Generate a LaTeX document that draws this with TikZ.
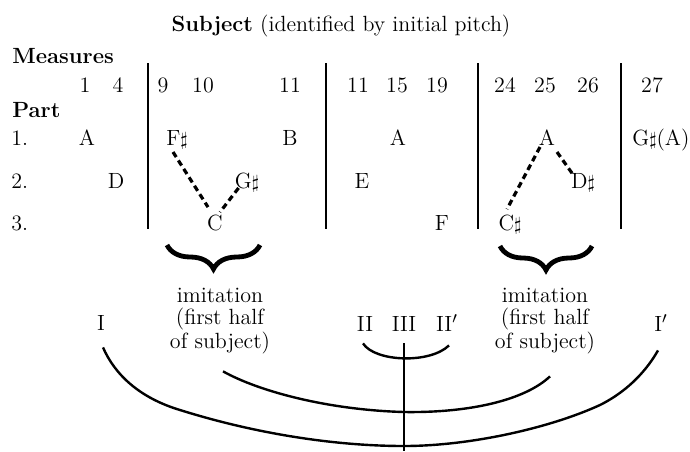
\documentclass[tikz,border=0pt]{standalone}
\usetikzlibrary{decorations.pathreplacing}
\newcommand{\shp}{\scalebox{0.85}{$\sharp$}}
\begin{document}
\begin{tikzpicture}[x=0.5pt,y=-0.5pt,font=\fontsize{11}{13}\selectfont,
    lbl/.style={anchor=base,inner sep=0pt},
    bar/.style={line width=1pt},
    dsh/.style={line width=1.6pt,dash pattern=on 3pt off 2pt},
    brc/.style={decorate,decoration={brace,mirror,amplitude=12pt},line width=2.4pt},
    imi/.style={align=center,inner sep=0pt,font=\fontsize{11}{11}\selectfont},
    arc/.style={line width=1.2pt}]
  \useasboundingbox (0,0) rectangle (690,451);
  % headings
  \node[lbl] (title) at (341,31) {\textbf{Subject} (identified by initial pitch)};
  \node[lbl,anchor=base west] (meas) at (12,63) {\textbf{Measures}};
  \node[lbl,anchor=base west] (part) at (12,117) {\textbf{Part}};
  \foreach \m/\x [count=\i] in {1/85,4/118,9/163,10/203,11/290,11/358,15/397,19/437,24/505,25/545,26/588,27/652}
    \node[lbl] (m\i) at (\x,92) {\m};
  \foreach \r/\y in {1/145,2/188,3/230}
    \node[lbl,anchor=base west] (p\r) at (11,\y) {\r.};
  % section bars
  \foreach \x in {148,326,478,621}
    \draw[bar] (\x,63) -- (\x,229);
  % entries
  \node[lbl] (A1) at (87,145) {A};
  \node[lbl] (Fs) at (177,145) {F\shp};
  \node[lbl] (B) at (290,145) {B};
  \node[lbl] (A2) at (398,145) {A};
  \node[lbl] (A3) at (547,145) {A};
  \node[lbl,anchor=base west] (Gs2) at (632,145) {G\shp(A)};
  \node[lbl] (D) at (116,188) {D};
  \node[lbl] (Gs) at (247,188) {G\shp};
  \node[lbl] (E) at (362,188) {E};
  \node[lbl] (Ds) at (583,188) {D\shp};
  \node[lbl] (C) at (215,230) {C};
  \node[lbl] (F) at (442,230) {F};
  \node[lbl] (Cs) at (510,230) {C\shp};
  \draw[dsh] ([shift={(-4,7)}]Fs.base) -- ([shift={(-7,-7)}]C.north);
  \draw[dsh] ([shift={(4,0)}]Gs.base west) -- ([shift={(5,-2)}]C.north);
  \draw[dsh] ([shift={(-7,2)}]A3.base) -- ([shift={(-3,-5)}]Cs.north);
  \draw[dsh] ([shift={(10,7)}]A3.base) -- ([shift={(-10,2)}]Ds.north);
  % imitation braces
  \draw[brc] (167,245) -- (260,245);
  \draw[brc] (500,246) -- (592,246);
  \node[imi] (imiL) at (220,321) {imitation\\(first half\\of subject)};
  \node[imi] (imiR) at (545,321) {imitation\\(first half\\of subject)};
  % form
  \node[lbl] (I) at (101,330) {I};
  \node[lbl] (II) at (365,331) {II};
  \node[lbl] (III) at (404,331) {III};
  \node[lbl] (IIp) at (447,331) {II$'$};
  \node[lbl] (Ip) at (661,331) {I$'$};
  \coordinate (stem) at (404,451);
  \draw[arc] ([shift={(-2,12)}]II.south) .. controls (375,362) and (430,364) .. ([shift={(2,14)}]IIp.south);
  \draw[arc] ([shift={(0,12)}]III.south) -- (stem);
  \draw[arc] ([shift={(3,17)}]imiL.south) .. controls (260,392) and (330,410) .. (404,412)
    .. controls (470,413) and (525,400) .. ([shift={(5,22)}]imiR.south);
  \draw[arc] ([shift={(2,17)}]I.south) .. controls (115,375) and (140,398) .. (180,410)
    .. controls (250,432) and (330,446) .. (404,446)
    .. controls (470,446) and (550,428) .. (600,405)
    .. controls (630,390) and (648,368) .. ([shift={(-3,19)}]Ip.south);
\end{tikzpicture}
\end{document}
